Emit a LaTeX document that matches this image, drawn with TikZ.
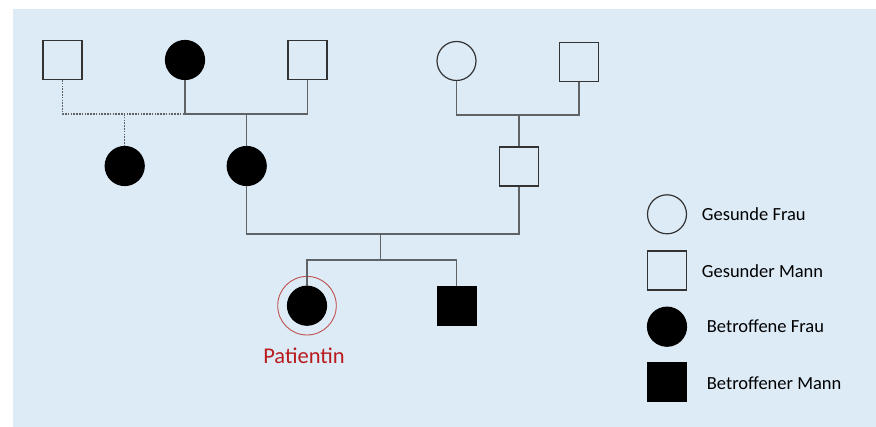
\documentclass[tikz,border=0pt]{standalone}
\usepackage{fontspec}
\setmainfont{Carlito}
\definecolor{bgblue}{HTML}{DDEBF7}
\definecolor{linegray}{HTML}{5F6366}
\definecolor{edgegray}{HTML}{333333}
\definecolor{ringred}{HTML}{C0504D}
\definecolor{textred}{HTML}{B81C1C}
\tikzset{
  female/.style={circle, draw=edgegray, line width=1.2pt, minimum size=39pt, inner sep=0pt},
  male/.style={rectangle, draw=edgegray, line width=1.2pt, minimum size=39pt, inner sep=0pt},
  afffemale/.style={female, fill=black, draw=black},
  affmale/.style={male, fill=black, draw=black},
  kin/.style={draw=linegray, line width=1.1pt},
  kindash/.style={kin, dash pattern=on 1.6pt off 1.2pt},
  legtext/.style={anchor=west, font=\fontsize{18.5pt}{20pt}\selectfont, inner sep=0pt}
}
\begin{document}
\begin{tikzpicture}[x=1pt, y=-1pt]
\useasboundingbox (0,0) rectangle (876,427);
\fill[bgblue] (13,9) rectangle (876,427);

% grandparents, left side
\node[male] (s1) at (62.5,60) {};
\node[afffemale] (c1) at (185,60) {};
\node[male] (s2) at (307.5,60) {};
% grandparents, right side
\node[female] (c2) at (456.5,61) {};
\node[male] (s3) at (579,62) {};

% parents' generation
\node[afffemale] (d1) at (124.7,166) {};
\node[afffemale] (d2) at (246.7,166) {};
\node[male] (s4) at (519,166.5) {};

% children
\node[afffemale] (p) at (307,305.7) {};
\node[circle, draw=ringred, line width=0.9pt, minimum size=58.6pt, inner sep=0pt] (ring) at (p) {};
\node[affmale] (q) at (456.8,305.8) {};
\node[text=textred, font=\fontsize{22.5pt}{24pt}\selectfont, inner sep=0pt] (plabel) at (304,355.5) {Patientin};

% junction points
\coordinate (m1) at (185,114);
\coordinate (m2) at (307.5,114);
\coordinate (j1) at (124.7,114);
\coordinate (j2) at (246.7,114);
\coordinate (m3) at (579,115);
\coordinate (j3) at (519,115);
\coordinate (m4) at (519,234);
\coordinate (j4) at (380.7,234);
\coordinate (j5) at (380.7,260);

% left couple: dashed partnership and child
\draw[kindash] (s1.south) |- (m1);
\draw[kindash] (j1) -- (d1.north);
% left couple: solid partnership and child
\draw[kin] (c1.south) -- (m1) -- (m2) -- (s2.south);
\draw[kin] (j2) -- (d2.north);
% right couple and son
\draw[kin] (c2.south) |- (m3) -- (s3.south);
\draw[kin] (j3) -- (s4.north);
% parents and children
\draw[kin] (d2.south) |- (m4) -- (s4.south);
\draw[kin] (j4) -- (j5);
\draw[kin] (p.north) |- (j5) -| (q.north);

% legend
\node[female] (l1) at (667,214.3) {};
\node[legtext] (t1) at (701.7,214.5) {Gesunde Frau};
\node[male] (l2) at (667,270.5) {};
\node[legtext] (t2) at (701.7,271) {Gesunder Mann};
\node[afffemale] (l3) at (667,326.7) {};
\node[legtext] (t3) at (706.7,326.5) {Betroffene Frau};
\node[affmale] (l4) at (667,382.2) {};
\node[legtext] (t4) at (706.7,383) {Betroffener Mann};
\end{tikzpicture}
\end{document}
